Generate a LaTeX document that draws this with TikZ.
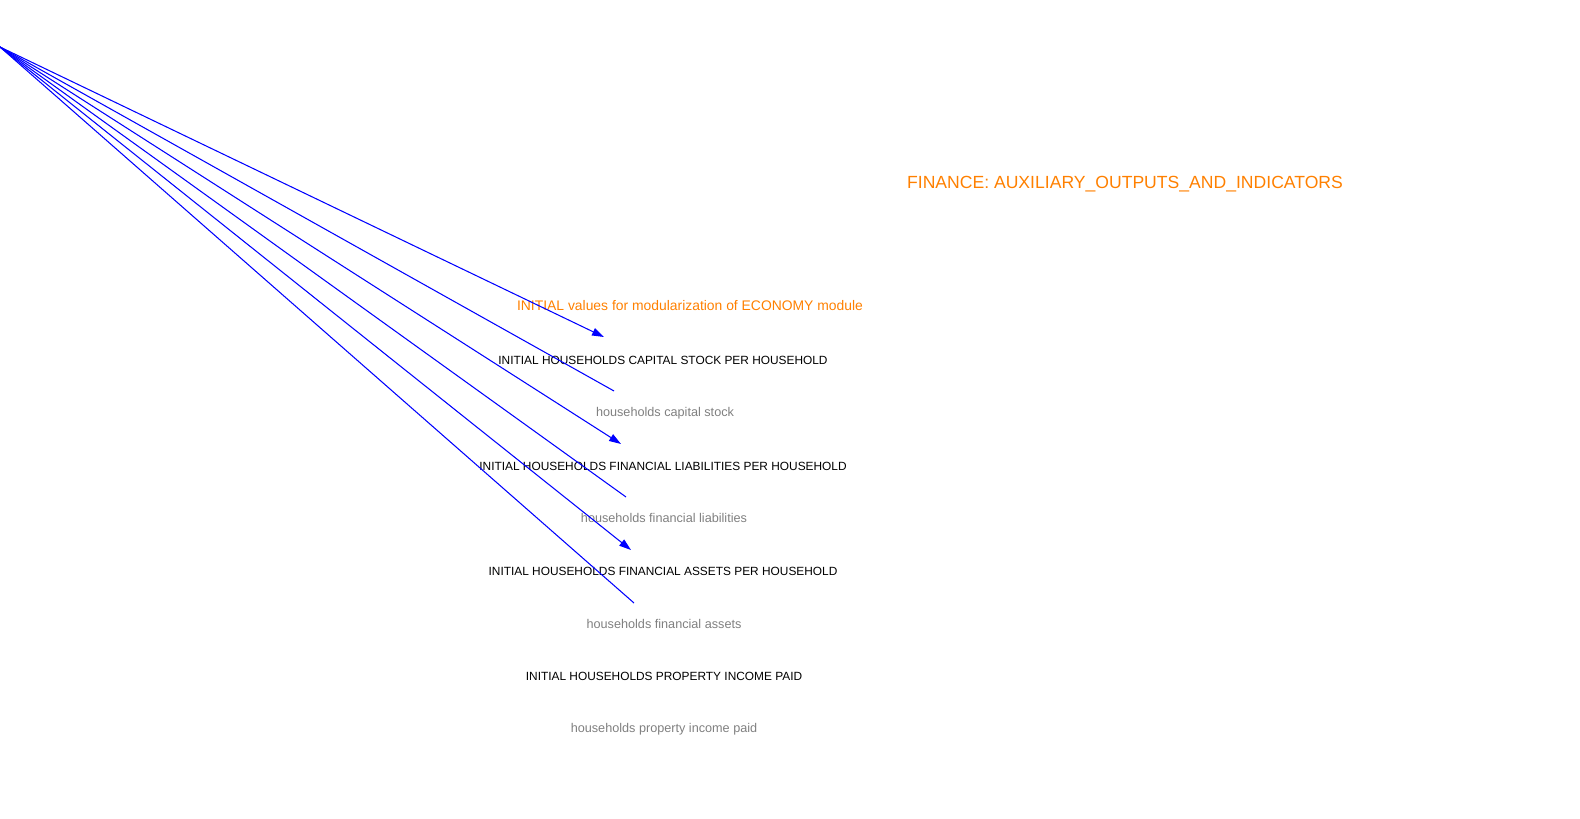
\documentclass[tikz,border=0pt]{standalone}
\usepackage{fontspec}
\setmainfont{Liberation Sans}
\usetikzlibrary{arrows.meta,positioning}

\begin{document}
\begin{tikzpicture}[x=0.01cm,y=-0.01cm]
\tikzset{ttl/.style={text={rgb,255:red,255;green,128;blue,0}, font=\fontsize{5}{6}\selectfont}}
\tikzset{sub/.style={text={rgb,255:red,255;green,128;blue,0}, font=\fontsize{3.95}{5}\selectfont}}
\tikzset{init/.style={text=black, font=\fontsize{3.38}{4.5}\selectfont}}
\tikzset{hh/.style={text={rgb,255:red,128;green,128;blue,128}, font=\fontsize{3.6}{4.5}\selectfont}}
\useasboundingbox (0,0) rectangle (1580,819);

\begin{scope}[every node/.style={inner sep=0pt}]
\node [ttl] (T) at (1125,184) {FINANCE: AUXILIARY\_OUTPUTS\_AND\_INDICATORS};
\node [sub] (M) at (690,306) {INITIAL values for modularization of ECONOMY module};
\node [init] (K) at (663,360) {INITIAL HOUSEHOLDS CAPITAL STOCK PER HOUSEHOLD};
\node [hh] (k) at (665,413) {households capital stock};
\node [init] (L) at (663,466) {INITIAL HOUSEHOLDS FINANCIAL LIABILITIES PER HOUSEHOLD};
\node [hh] (l) at (664,518) {households financial liabilities};
\node [init] (A) at (663,571) {INITIAL HOUSEHOLDS FINANCIAL ASSETS PER HOUSEHOLD};
\node [hh] (a) at (664,624) {households financial assets};
\node [init] (P) at (664,676) {INITIAL HOUSEHOLDS PROPERTY INCOME PAID};
\node [hh] (p) at (664,729) {households property income paid};
\end{scope}

\coordinate (O) at (0,47);
\coordinate (K1) at (604,337);
\coordinate (k1) at (614,391);
\coordinate (L1) at (621,444);
\coordinate (l1) at (626,497);
\coordinate (A1) at (631,550);
\coordinate (a1) at (634,603);

\begin{scope}[>={Triangle[length=3.4pt,width=2.2pt]},every edge/.style={draw=blue,line width=0.3pt}]
\path (O) edge[->] (K1);
\path (O) edge (k1);
\path (O) edge[->] (L1);
\path (O) edge (l1);
\path (O) edge[->] (A1);
\path (O) edge (a1);
\end{scope}

\end{tikzpicture}
\end{document}
